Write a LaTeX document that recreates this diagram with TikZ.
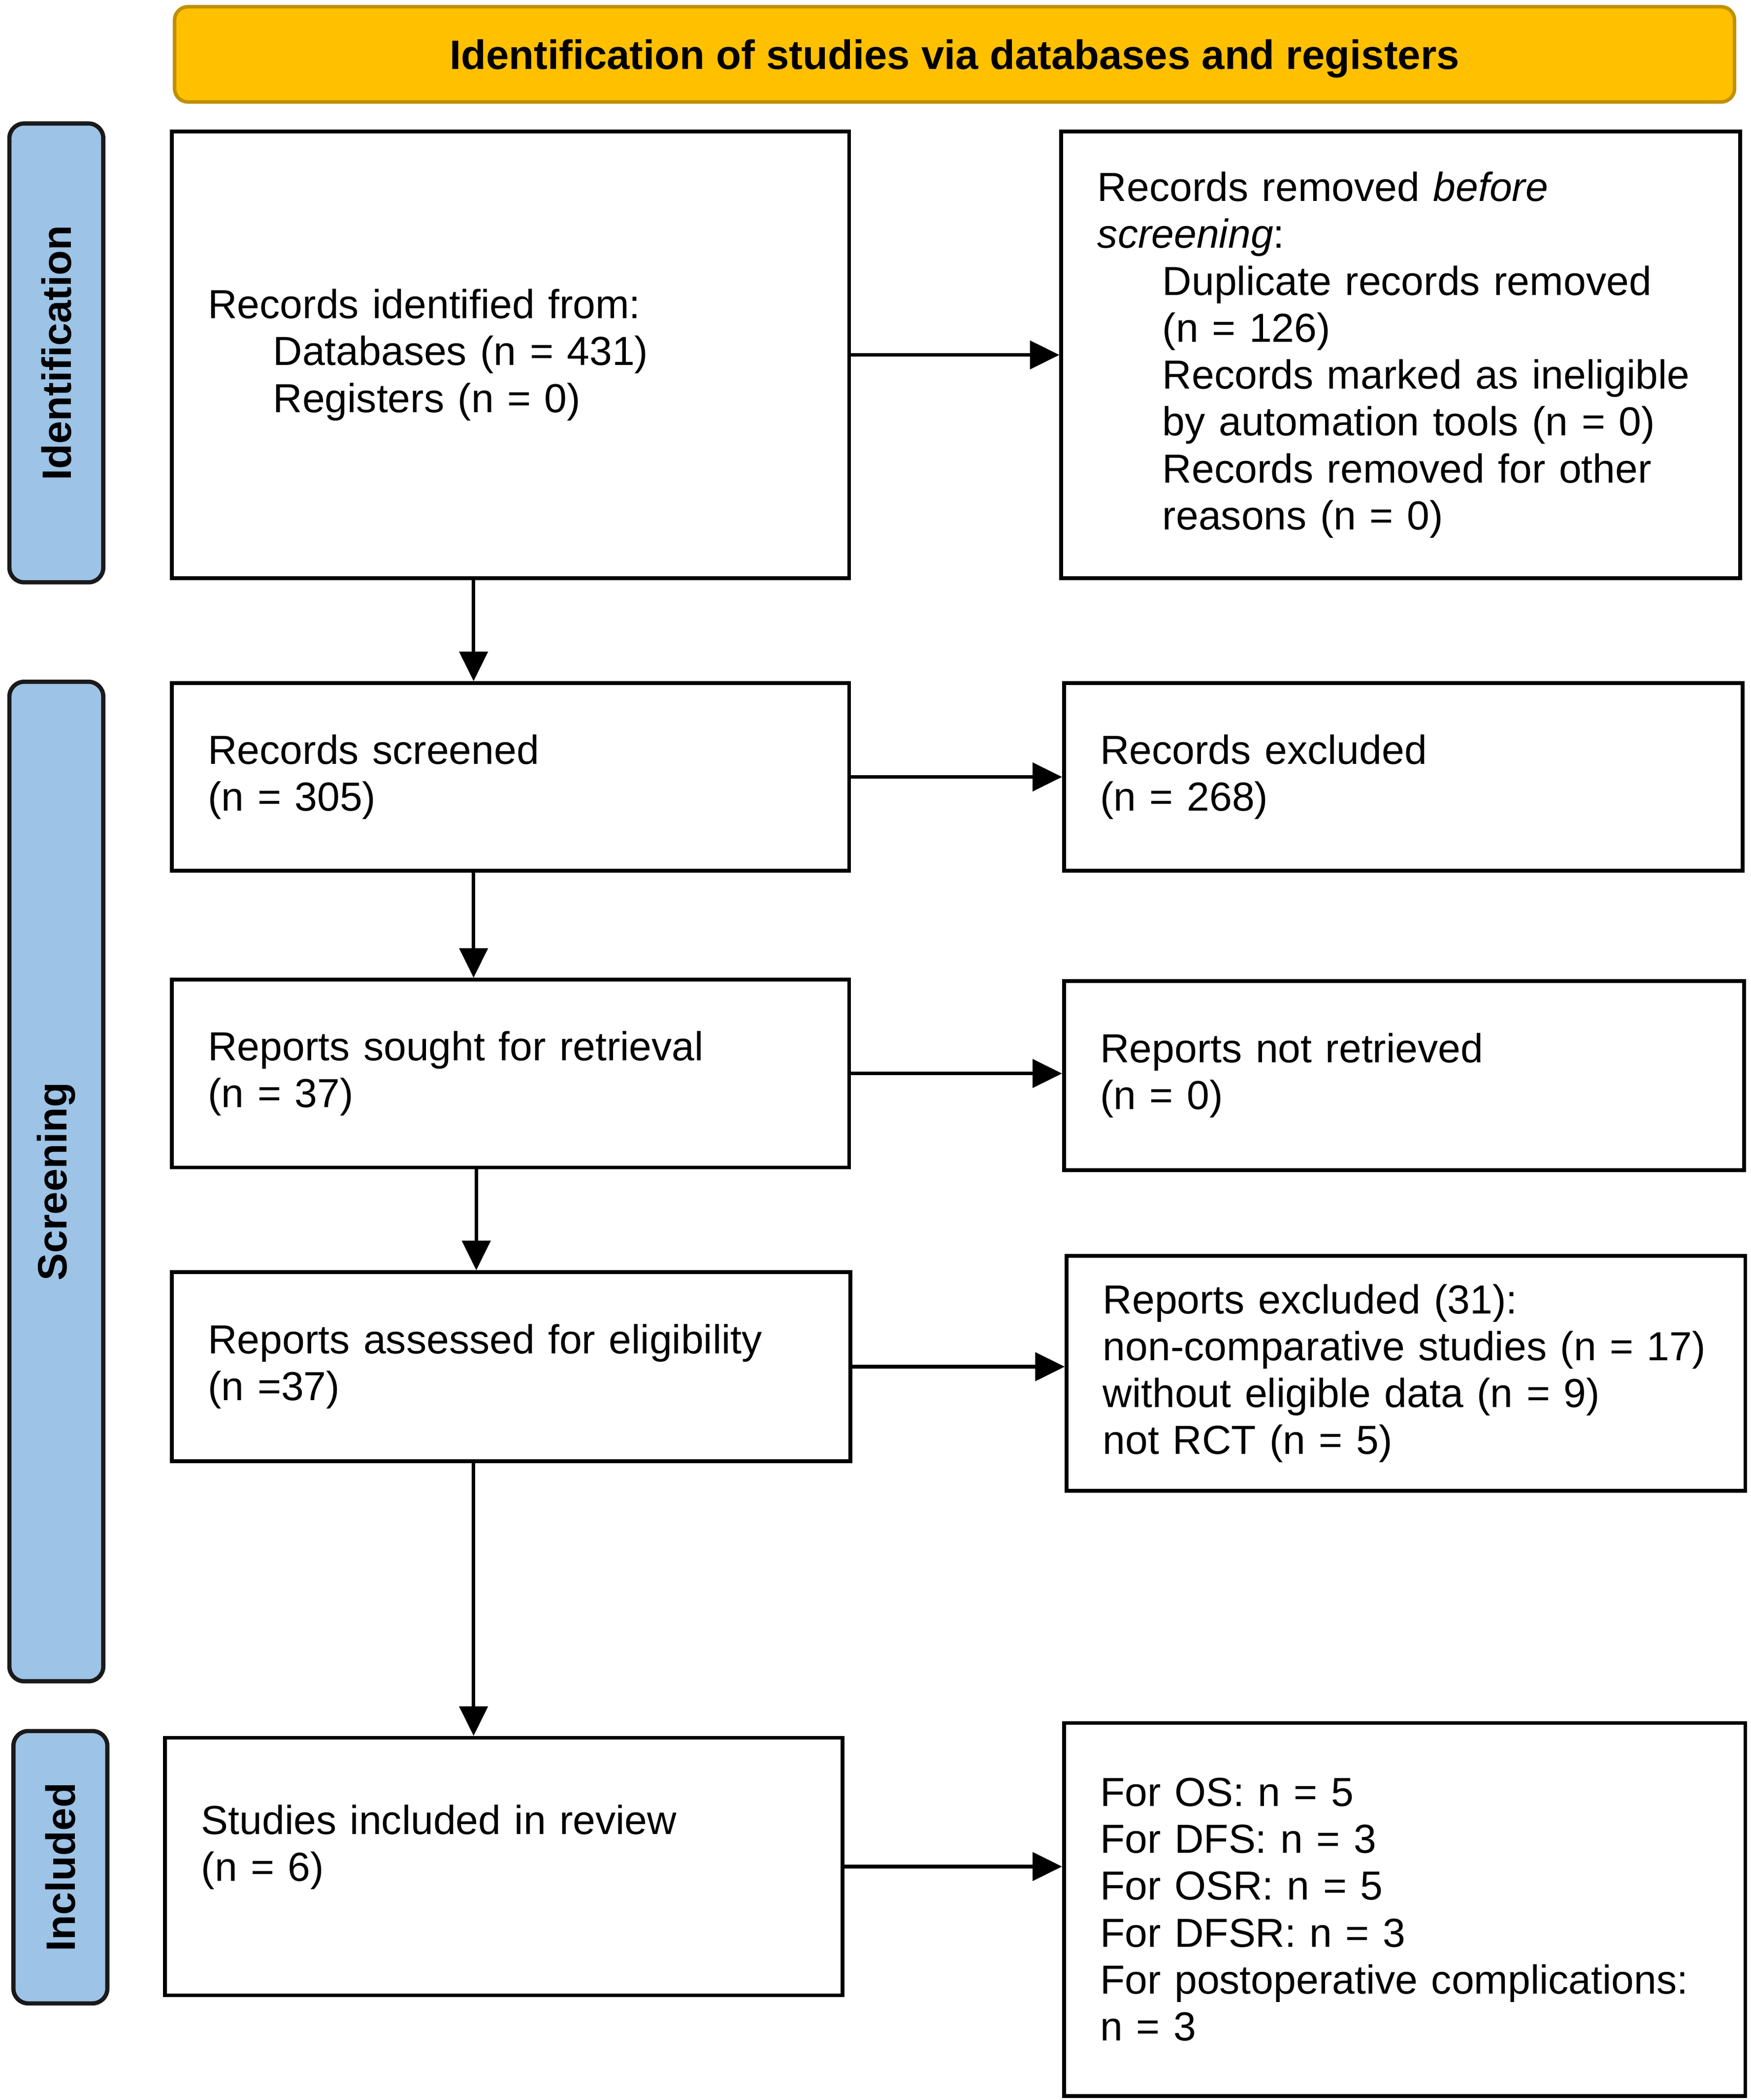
\documentclass[tikz,border=0pt]{standalone}
\usepackage{fontspec}
\setmainfont{Liberation Sans}
\usetikzlibrary{arrows.meta}
\definecolor{hdrfill}{HTML}{FFC000}
\definecolor{hdrdraw}{HTML}{BF9000}
\definecolor{barfill}{HTML}{9DC3E6}
\definecolor{bardraw}{HTML}{1A1A1A}
\newcommand\myindent{\hspace*{0.97cm}}
\begin{document}
\begin{tikzpicture}[x=0.02cm,y=-0.02cm,
  every node/.style={font=\fontsize{17.2}{19.9}\selectfont},
  box/.style={draw=black, line width=1.6pt, fill=white, inner xsep=0.54cm, inner ysep=0pt, align=left},
  hdr/.style={draw=hdrdraw, fill=hdrfill, line width=1.5pt, rounded corners=0.2cm, inner sep=0pt, text depth=0pt, font=\fontsize{17.4}{19.9}\selectfont\bfseries},
  bar/.style={draw=bardraw, fill=barfill, line width=1.8pt, rounded corners=0.22cm, rotate=90, inner sep=0pt, font=\fontsize{17.4}{19.9}\selectfont\bfseries},
  arr/.style={line width=1.5pt, -{Triangle[length=0.44cm,width=0.42cm]}}
]
\useasboundingbox (0,0) rectangle (1305,1565);

% header
\node[hdr, minimum width=23.26cm, minimum height=1.42cm] (hdr) at (711.5,40.5) {Identification of studies via databases and registers};

% side bars
\node[bar, minimum width=6.84cm, minimum height=1.40cm] (sid) at (42,263) {Identification};
\node[bar, minimum width=14.90cm, minimum height=1.40cm] (sscr) at (42,880.5) {Screening};
\node[bar, minimum width=4.06cm, minimum height=1.40cm] (sinc) at (45,1391.5) {Included};

% left column
\node[box, minimum width=10.10cm, text width=9.02cm, minimum height=6.66cm] (b1) at (380.5,264.5)
  {Records identified from:\\ \myindent Databases (n = 431)\\ \myindent Registers (n = 0)};
\node[box, minimum width=10.10cm, text width=9.02cm, minimum height=2.80cm] (b2) at (380.5,579)
  {Records screened\\ (n = 305)};
\node[box, minimum width=10.10cm, text width=9.02cm, minimum height=2.80cm] (b3) at (380.5,800)
  {Reports sought for retrieval\\ (n = 37)};
\node[box, minimum width=10.12cm, text width=9.04cm, minimum height=2.82cm] (b4) at (381,1018.5)
  {Reports assessed for eligibility\\ (n =37)};
\node[box, minimum width=10.10cm, text width=9.02cm, minimum height=3.84cm] (b5) at (375.5,1391)
  {Studies included in review\\ (n = 6)\\ \mbox{}};

% right column
\node[box, minimum width=10.12cm, text width=9.04cm, minimum height=6.66cm] (r1) at (1044,264.5)
  {Records removed \textit{before}\\ \textit{screening}:\\
   \myindent Duplicate records removed\\ \myindent (n = 126)\\
   \myindent Records marked as ineligible\\ \myindent by automation tools (n = 0)\\
   \myindent Records removed for other\\ \myindent reasons (n = 0)};
\node[box, minimum width=10.12cm, text width=9.04cm, minimum height=2.80cm] (r2) at (1046,579)
  {Records excluded\\ (n = 268)};
\node[box, minimum width=10.14cm, text width=9.06cm, minimum height=2.82cm] (r3) at (1046.5,801.5)
  {Reports not retrieved\\ (n = 0)};
\node[box, minimum width=10.12cm, text width=9.04cm, minimum height=3.50cm] (r4) at (1048,1023.5)
  {Reports excluded (31):\\ \mbox{non-comparative studies (n = 17)}\\ without eligible data (n = 9)\\ not RCT (n = 5)};
\node[box, minimum width=10.16cm, text width=9.08cm, minimum height=5.56cm] (r5) at (1047,1423)
  {For OS: n = 5\\ For DFS: n = 3\\ For OSR: n = 5\\ For DFSR: n = 3\\ For postoperative complications:\\ n = 3};

% connectors
\coordinate (ax) at (353,0);
\coordinate (ay) at (355,0);
\draw[arr] (b1.south -| ax) -- (b2.north -| ax);
\draw[arr] (b2.south -| ax) -- (b3.north -| ax);
\draw[arr] (b3.south -| ay) -- (b4.north -| ay);
\draw[arr] (b4.south -| ax) -- (b5.north -| ax);
\draw[arr] (b1.east) -- (b1.east -| r1.west);
\draw[arr] (b2.east) -- (b2.east -| r2.west);
\draw[arr] (b3.east) -- (b3.east -| r3.west);
\draw[arr] (b4.east) -- (b4.east -| r4.west);
\draw[arr] (b5.east) -- (b5.east -| r5.west);
\end{tikzpicture}
\end{document}
